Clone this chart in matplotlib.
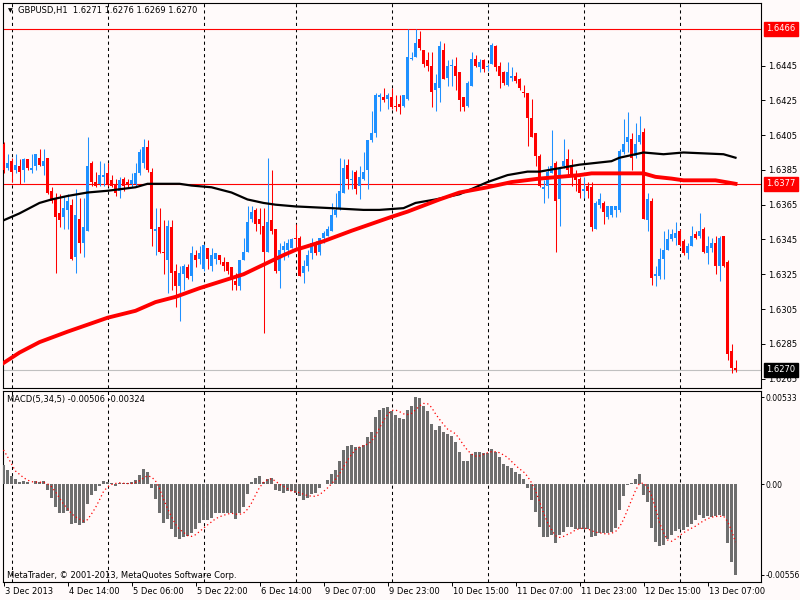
import numpy as np
import pandas as pd
import matplotlib
matplotlib.use('Agg')
import matplotlib.pyplot as plt
from matplotlib.transforms import blended_transform_factory, offset_copy

# ---------------- data ----------------
symbol_title = 'GBPUSD,H1  1.6271 1.6276 1.6269 1.6270'
macd_title = 'MACD(5,34,5) -0.00506 -0.00324'
footer = 'MetaTrader, \u00a9 2001-2013, MetaQuotes Software Corp.'

opens = [
1.6400, 1.6386, 1.6390, 1.6385, 1.6387, 1.6385, 1.6391, 1.6385, 1.6387, 1.6392,
1.6387, 1.6392, 1.6373, 1.6368, 1.6360, 1.6358, 1.6362, 1.6365, 1.6335, 1.6357,
1.6343, 1.6350, 1.6389, 1.6378, 1.6377, 1.6381, 1.6383, 1.6379, 1.6377, 1.6373,
1.6380, 1.6378, 1.6377, 1.6377, 1.6383, 1.6389, 1.6398, 1.6384, 1.6350, 1.6352,
1.6338, 1.6333, 1.6352, 1.6327, 1.6318, 1.6325, 1.6329, 1.6324, 1.6336, 1.6334,
1.6328, 1.6340, 1.6330, 1.6334, 1.6336, 1.6332, 1.6332, 1.6329, 1.6321, 1.6318,
1.6333, 1.6338, 1.6357, 1.6362, 1.6357, 1.6353, 1.6338, 1.6356, 1.6351, 1.6327,
1.6339, 1.6339, 1.6340, 1.6346, 1.6346, 1.6326, 1.6330, 1.6337, 1.6343, 1.6338,
1.6346, 1.6347, 1.6350, 1.6359, 1.6363, 1.6372, 1.6388, 1.6379, 1.6384, 1.6376,
1.6380, 1.6385, 1.6402, 1.6406, 1.6427, 1.6427, 1.6426, 1.6427, 1.6422, 1.6423,
1.6422, 1.6426, 1.6449, 1.6450, 1.6460, 1.6454, 1.6448, 1.6445, 1.6431, 1.6432,
1.6454, 1.6438, 1.6445, 1.6445, 1.6441, 1.6427, 1.6422, 1.6433, 1.6449, 1.6444,
1.6448, 1.6444, 1.6446, 1.6456, 1.6445, 1.6441, 1.6434, 1.6438, 1.6439, 1.6437,
1.6430, 1.6429, 1.6415, 1.6406, 1.6393, 1.6374, 1.6376, 1.6383, 1.6389, 1.6368,
1.6387, 1.6391, 1.6388, 1.6382, 1.6380, 1.6373, 1.6376, 1.6375, 1.6351, 1.6365,
1.6366, 1.6358, 1.6359, 1.6362, 1.6362, 1.6395, 1.6401, 1.6403, 1.6393, 1.6401,
1.6407, 1.6356, 1.6367, 1.6324, 1.6324, 1.6334, 1.6339, 1.6345, 1.6346, 1.6350,
1.6344, 1.6337, 1.6341, 1.6348, 1.6347, 1.6351, 1.6337, 1.6340, 1.6343, 1.6330,
1.6347, 1.6332, 1.6281, 1.6271]

highs = [
1.6401, 1.6394, 1.6392, 1.6394, 1.6391, 1.6392, 1.6391, 1.6394, 1.6394, 1.6397,
1.6397, 1.6392, 1.6375, 1.6372, 1.6371, 1.6370, 1.6371, 1.6368, 1.6374, 1.6369,
1.6369, 1.6404, 1.6390, 1.6384, 1.6390, 1.6389, 1.6389, 1.6382, 1.6380, 1.6381,
1.6381, 1.6380, 1.6383, 1.6389, 1.6397, 1.6403, 1.6402, 1.6386, 1.6363, 1.6363,
1.6356, 1.6356, 1.6356, 1.6331, 1.6330, 1.6331, 1.6331, 1.6341, 1.6339, 1.6341,
1.6342, 1.6340, 1.6340, 1.6337, 1.6336, 1.6335, 1.6332, 1.6329, 1.6326, 1.6333,
1.6346, 1.6364, 1.6364, 1.6363, 1.6363, 1.6363, 1.6392, 1.6385, 1.6351, 1.6343,
1.6344, 1.6345, 1.6346, 1.6354, 1.6347, 1.6333, 1.6339, 1.6346, 1.6344, 1.6346,
1.6350, 1.6353, 1.6366, 1.6372, 1.6392, 1.6391, 1.6391, 1.6385, 1.6385, 1.6387,
1.6395, 1.6402, 1.6419, 1.6429, 1.6429, 1.6432, 1.6429, 1.6432, 1.6428, 1.6428,
1.6428, 1.6466, 1.6453, 1.6466, 1.6465, 1.6454, 1.6453, 1.6453, 1.6440, 1.6459,
1.6458, 1.6448, 1.6449, 1.6450, 1.6441, 1.6427, 1.6436, 1.6453, 1.6451, 1.6449,
1.6449, 1.6446, 1.6458, 1.6457, 1.6447, 1.6442, 1.6447, 1.6444, 1.6441, 1.6438,
1.6434, 1.6429, 1.6426, 1.6406, 1.6394, 1.6379, 1.6387, 1.6408, 1.6390, 1.6386,
1.6403, 1.6397, 1.6391, 1.6385, 1.6381, 1.6381, 1.6378, 1.6378, 1.6367, 1.6372,
1.6367, 1.6364, 1.6364, 1.6364, 1.6397, 1.6414, 1.6418, 1.6406, 1.6412, 1.6416,
1.6409, 1.6372, 1.6369, 1.6330, 1.6340, 1.6350, 1.6351, 1.6351, 1.6355, 1.6351,
1.6345, 1.6343, 1.6353, 1.6350, 1.6360, 1.6352, 1.6347, 1.6346, 1.6347, 1.6347,
1.6347, 1.6333, 1.6285, 1.6276]

lows = [
1.6383, 1.6385, 1.6378, 1.6383, 1.6377, 1.6378, 1.6385, 1.6383, 1.6385, 1.6387,
1.6382, 1.6371, 1.6366, 1.6326, 1.6352, 1.6351, 1.6351, 1.6333, 1.6326, 1.6337,
1.6335, 1.6350, 1.6376, 1.6375, 1.6376, 1.6376, 1.6376, 1.6375, 1.6370, 1.6369,
1.6373, 1.6375, 1.6375, 1.6375, 1.6382, 1.6386, 1.6384, 1.6341, 1.6336, 1.6337,
1.6325, 1.6314, 1.6316, 1.6306, 1.6298, 1.6316, 1.6322, 1.6321, 1.6329, 1.6331,
1.6327, 1.6328, 1.6327, 1.6331, 1.6331, 1.6327, 1.6325, 1.6316, 1.6316, 1.6316,
1.6333, 1.6338, 1.6355, 1.6350, 1.6348, 1.6291, 1.6338, 1.6348, 1.6326, 1.6317,
1.6333, 1.6335, 1.6340, 1.6340, 1.6324, 1.6320, 1.6327, 1.6334, 1.6336, 1.6336,
1.6343, 1.6347, 1.6350, 1.6358, 1.6362, 1.6372, 1.6374, 1.6374, 1.6371, 1.6368,
1.6379, 1.6374, 1.6401, 1.6404, 1.6419, 1.6424, 1.6420, 1.6420, 1.6419, 1.6417,
1.6421, 1.6425, 1.6448, 1.6450, 1.6454, 1.6444, 1.6442, 1.6421, 1.6419, 1.6424,
1.6437, 1.6433, 1.6433, 1.6431, 1.6419, 1.6419, 1.6421, 1.6433, 1.6444, 1.6441,
1.6441, 1.6442, 1.6446, 1.6442, 1.6432, 1.6434, 1.6433, 1.6436, 1.6435, 1.6431,
1.6427, 1.6399, 1.6404, 1.6387, 1.6375, 1.6366, 1.6369, 1.6383, 1.6338, 1.6353,
1.6386, 1.6381, 1.6376, 1.6373, 1.6369, 1.6369, 1.6369, 1.6350, 1.6351, 1.6363,
1.6354, 1.6357, 1.6358, 1.6358, 1.6361, 1.6394, 1.6395, 1.6385, 1.6392, 1.6400,
1.6357, 1.6350, 1.6319, 1.6318, 1.6322, 1.6322, 1.6339, 1.6344, 1.6342, 1.6341,
1.6336, 1.6334, 1.6341, 1.6345, 1.6346, 1.6337, 1.6331, 1.6338, 1.6325, 1.6321,
1.6329, 1.6276, 1.6268, 1.6269]

closes = [
1.6385, 1.6389, 1.6384, 1.6388, 1.6384, 1.6391, 1.6386, 1.6386, 1.6394, 1.6388,
1.6390, 1.6372, 1.6367, 1.6358, 1.6356, 1.6363, 1.6367, 1.6334, 1.6359, 1.6343,
1.6352, 1.6387, 1.6378, 1.6376, 1.6382, 1.6382, 1.6377, 1.6376, 1.6372, 1.6379,
1.6376, 1.6377, 1.6379, 1.6383, 1.6395, 1.6398, 1.6385, 1.6351, 1.6351, 1.6338,
1.6337, 1.6353, 1.6326, 1.6318, 1.6326, 1.6330, 1.6323, 1.6337, 1.6333, 1.6337,
1.6342, 1.6334, 1.6336, 1.6337, 1.6333, 1.6330, 1.6327, 1.6322, 1.6319, 1.6333,
1.6338, 1.6355, 1.6361, 1.6354, 1.6354, 1.6338, 1.6355, 1.6350, 1.6327, 1.6339,
1.6341, 1.6343, 1.6345, 1.6345, 1.6324, 1.6330, 1.6336, 1.6343, 1.6337, 1.6346,
1.6349, 1.6351, 1.6359, 1.6362, 1.6373, 1.6386, 1.6380, 1.6380, 1.6374, 1.6381,
1.6384, 1.6402, 1.6406, 1.6428, 1.6428, 1.6425, 1.6428, 1.6421, 1.6421, 1.6421,
1.6428, 1.6450, 1.6449, 1.6458, 1.6455, 1.6446, 1.6445, 1.6430, 1.6435, 1.6456,
1.6437, 1.6445, 1.6445, 1.6439, 1.6425, 1.6421, 1.6435, 1.6449, 1.6445, 1.6447,
1.6443, 1.6445, 1.6457, 1.6444, 1.6439, 1.6435, 1.6441, 1.6439, 1.6436, 1.6432,
1.6429, 1.6415, 1.6404, 1.6393, 1.6376, 1.6375, 1.6384, 1.6387, 1.6367, 1.6386,
1.6390, 1.6385, 1.6381, 1.6379, 1.6372, 1.6374, 1.6373, 1.6352, 1.6366, 1.6368,
1.6361, 1.6364, 1.6364, 1.6364, 1.6396, 1.6400, 1.6404, 1.6392, 1.6400, 1.6405,
1.6357, 1.6368, 1.6323, 1.6325, 1.6334, 1.6339, 1.6345, 1.6348, 1.6349, 1.6342,
1.6337, 1.6341, 1.6347, 1.6346, 1.6350, 1.6338, 1.6341, 1.6343, 1.6330, 1.6346,
1.6330, 1.6279, 1.6271, 1.6270]

# moving averages read at sample bars
ma_black_bars = [0, 4, 9, 12, 16, 21, 26, 33, 36, 44, 47, 52, 57, 61, 65, 68, 73, 82, 90, 94,
                 100, 103, 108, 114, 121, 126, 131, 134, 139, 144, 152, 154, 160, 165, 170, 180, 183]
ma_black = [1.6356, 1.6360, 1.6366, 1.6368, 1.6370, 1.6372, 1.6373, 1.6375, 1.6377, 1.6377,
            1.6376, 1.6375, 1.6372, 1.6368, 1.6366, 1.6365, 1.6364, 1.6363, 1.6362, 1.6362,
            1.6363, 1.6366, 1.6368, 1.6371, 1.6378, 1.6382, 1.6384, 1.6384, 1.6386, 1.6388,
            1.6390, 1.6392, 1.6395, 1.6394, 1.6395, 1.6394, 1.6392]
ma_red_bars = [0, 4, 9, 16, 21, 26, 33, 38, 43, 49, 60, 70, 73, 80, 87, 97, 101, 109, 114, 121,
               127, 134, 139, 144, 147, 160, 163, 167, 170, 178, 183]
ma_red = [1.6274, 1.6280, 1.6286, 1.6292, 1.6296, 1.6300, 1.6304, 1.6309, 1.6312, 1.6317,
          1.6325, 1.6336, 1.6339, 1.6344, 1.6350, 1.6358, 1.6361, 1.6368, 1.6372, 1.6375,
          1.6378, 1.6380, 1.6381, 1.6382, 1.6383, 1.6383, 1.6381, 1.6380, 1.6379, 1.6379,
          1.6377]

macd = [
0.00117, 0.00086, 0.00051, 0.00029, 0.00014, 0.00018, 0.00010, 0.00002, 0.00016, 0.00010,
0.00016, -0.00037, -0.00084, -0.00143, -0.00178, -0.00178, -0.00166, -0.00244, -0.00236, -0.00250,
-0.00238, -0.00123, -0.00068, -0.00043, -0.00012, 0.00018, 0.00014, 0.00008, -0.00010, 0.00008,
0.00004, 0.00006, 0.00010, 0.00025, 0.00055, 0.00092, 0.00072, -0.00027, -0.00094, -0.00176,
-0.00238, -0.00215, -0.00277, -0.00324, -0.00336, -0.00324, -0.00318, -0.00301, -0.00273, -0.00238,
-0.00221, -0.00219, -0.00207, -0.00180, -0.00176, -0.00176, -0.00180, -0.00180, -0.00211, -0.00180,
-0.00139, -0.00062, 0.00010, 0.00035, 0.00051, 0.00012, 0.00029, 0.00035, -0.00037, -0.00043,
-0.00053, -0.00043, -0.00043, -0.00053, -0.00074, -0.00098, -0.00084, -0.00062, -0.00057, -0.00023,
-0.00002, 0.00025, 0.00062, 0.00086, 0.00141, 0.00207, 0.00234, 0.00240, 0.00228, 0.00228,
0.00240, 0.00291, 0.00322, 0.00408, 0.00455, 0.00467, 0.00474, 0.00449, 0.00424, 0.00404,
0.00400, 0.00455, 0.00480, 0.00533, 0.00525, 0.00476, 0.00449, 0.00369, 0.00332, 0.00357,
0.00322, 0.00305, 0.00297, 0.00260, 0.00195, 0.00141, 0.00141, 0.00182, 0.00199, 0.00199,
0.00189, 0.00189, 0.00215, 0.00199, 0.00168, 0.00121, 0.00113, 0.00096, 0.00076, 0.00059,
0.00031, -0.00027, -0.00098, -0.00170, -0.00262, -0.00324, -0.00324, -0.00314, -0.00359, -0.00314,
-0.00293, -0.00262, -0.00262, -0.00273, -0.00277, -0.00277, -0.00277, -0.00324, -0.00318, -0.00297,
-0.00299, -0.00299, -0.00293, -0.00269, -0.00156, -0.00072, -0.00004, 0.00004, 0.00031, 0.00062,
-0.00068, -0.00109, -0.00269, -0.00355, -0.00379, -0.00371, -0.00338, -0.00310, -0.00285, -0.00277,
-0.00283, -0.00262, -0.00246, -0.00221, -0.00191, -0.00207, -0.00197, -0.00201, -0.00197, -0.00187,
-0.00197, -0.00361, -0.00478, -0.00556]
signal_head = [0.00209, 0.00168, 0.00123, 0.00080]   # signal for first 4 bars

price_ticks = [1.6265, 1.6285, 1.6305, 1.6325, 1.6345, 1.6365, 1.6385, 1.6405, 1.6425, 1.6445]
price_marks = [(1.6466, '#FF0000'), (1.6377, '#FF0000'), (1.6270, '#000000')]
macd_ticks = [-0.00556, 0.0, 0.00533]
macd_tick_labels = ['-0.00556', '0.00', '0.00533']

time_tick_bars = [0, 16, 32, 48, 64, 80, 96, 112, 128, 144, 160, 176]
time_tick_labels = ['3 Dec 2013', '4 Dec 14:00', '5 Dec 06:00', '5 Dec 22:00', '6 Dec 14:00',
                    '9 Dec 07:00', '9 Dec 23:00', '10 Dec 15:00', '11 Dec 07:00',
                    '11 Dec 23:00', '12 Dec 15:00', '13 Dec 07:00']
day_separator_bars = [2, 26, 50, 73, 97, 121, 145, 169]

# ---------------- style ----------------
BG = '#FFFAFA'
BLUE = '#1E90FF'
RED = '#FF0000'
FS = 6.0
plt.rcParams['font.family'] = ['DejaVu Sans']

W, H = 800, 600
fig = plt.figure(figsize=(8, 6), dpi=100, facecolor=BG)


def rect(x0, y0, x1, y1):
    return [x0 / W, 1 - y1 / H, (x1 - x0) / W, (y1 - y0) / H]


ax1 = fig.add_axes(rect(2.7, 2.7, 760.7, 387.7))
ax2 = fig.add_axes(rect(2.7, 390.7, 760.7, 582.0))

for ax in (ax1, ax2):
    ax.set_facecolor(BG)
    for s in ax.spines.values():
        s.set_color('black')
        s.set_linewidth(0.8)
    ax.set_xlim(-0.2, 189.3)
    for b in day_separator_bars:
        ax.axvline(b, color='black', lw=0.75, ls=(0, (3, 3)), zorder=1)

# ---------------- candles ----------------
o = np.array(opens)
h = np.array(highs)
l = np.array(lows)
c = np.array(closes)
x = np.arange(len(o))
up = c >= o
cols = np.where(up, BLUE, RED)
ax1.vlines(x, l, h, colors=cols, lw=0.75, zorder=3)
body_h = np.abs(c - o)
min_h = 0.00006
bottoms = np.where(body_h < min_h, np.minimum(o, c) - min_h / 2, np.minimum(o, c))
ax1.bar(x, np.maximum(body_h, min_h), bottom=bottoms, width=0.74, color=cols,
        linewidth=0, zorder=4)

ax1.axhline(1.6466, color=RED, lw=0.8, zorder=2)
ax1.axhline(1.6377, color=RED, lw=0.8, zorder=2)
ax1.axhline(1.6270, color='#C0C0C0', lw=0.8, zorder=2)

ax1.plot(ma_black_bars, ma_black, color='black', lw=1.6, zorder=5, solid_joinstyle='round')
ax1.plot(ma_red_bars, ma_red, color=RED, lw=2.8, zorder=5, solid_joinstyle='round')

ax1.set_ylim(1.62598, 1.64811)
ax1.yaxis.tick_right()
ax1.set_yticks(price_ticks)
ax1.set_yticklabels([f'{v:.4f}' for v in price_ticks])
ax1.tick_params(axis='y', direction='out', length=3, width=0.7, labelsize=FS, pad=2.5)
ax1.tick_params(axis='x', bottom=False, labelbottom=False)

for val, fc in price_marks:
    ax1.annotate(f'{val:.4f}', xy=(1, val), xycoords=('axes fraction', 'data'),
                 xytext=(4.2, 0), textcoords='offset points', ha='left', va='center',
                 fontsize=FS, color='white', annotation_clip=False, zorder=10,
                 bbox=dict(boxstyle='square,pad=0.28', fc=fc, ec=fc))

# ---------------- MACD ----------------
macd_s = pd.Series(macd)
signal = macd_s.rolling(5).mean().to_numpy()
signal[:len(signal_head)] = signal_head
ax2.bar(x, macd, width=0.74, color='#6E6E6E', linewidth=0, zorder=3)
ax2.plot(x, signal, color=RED, lw=0.9, ls=(0, (1, 2.2)), zorder=4)
ax2.set_ylim(-0.0060, 0.00572)
ax2.yaxis.tick_right()
ax2.set_yticks(macd_ticks)
ax2.set_yticklabels(macd_tick_labels)
ax2.tick_params(axis='y', direction='out', length=2.5, width=0.7, labelsize=5.5, pad=1.2)
ax2.set_xticks(time_tick_bars)
ax2.tick_params(axis='x', direction='out', length=3, width=0.7, labelbottom=False)

trans = offset_copy(blended_transform_factory(ax2.transData, ax2.transAxes),
                    fig=fig, x=1.5, y=-4.5, units='dots')
for b, lab in zip(time_tick_bars, time_tick_labels):
    ax2.text(b, 0, lab, transform=trans, ha='left', va='top', fontsize=FS,
             color='black', clip_on=False)

# ---------------- texts ----------------
fig.text(8 / W, 1 - 11 / H, '\u25bc', fontsize=4.5, va='center', ha='left', color='black')
fig.text(18 / W, 1 - 11 / H, symbol_title, fontsize=FS, va='center', ha='left', color='black')
fig.text(7 / W, 1 - 399.5 / H, macd_title, fontsize=FS, va='center', ha='left', color='black')
fig.text(7 / W, 1 - 575 / H, footer, fontsize=FS, va='center', ha='left', color='black')

fig.savefig('out.png', dpi=100, facecolor=BG)
